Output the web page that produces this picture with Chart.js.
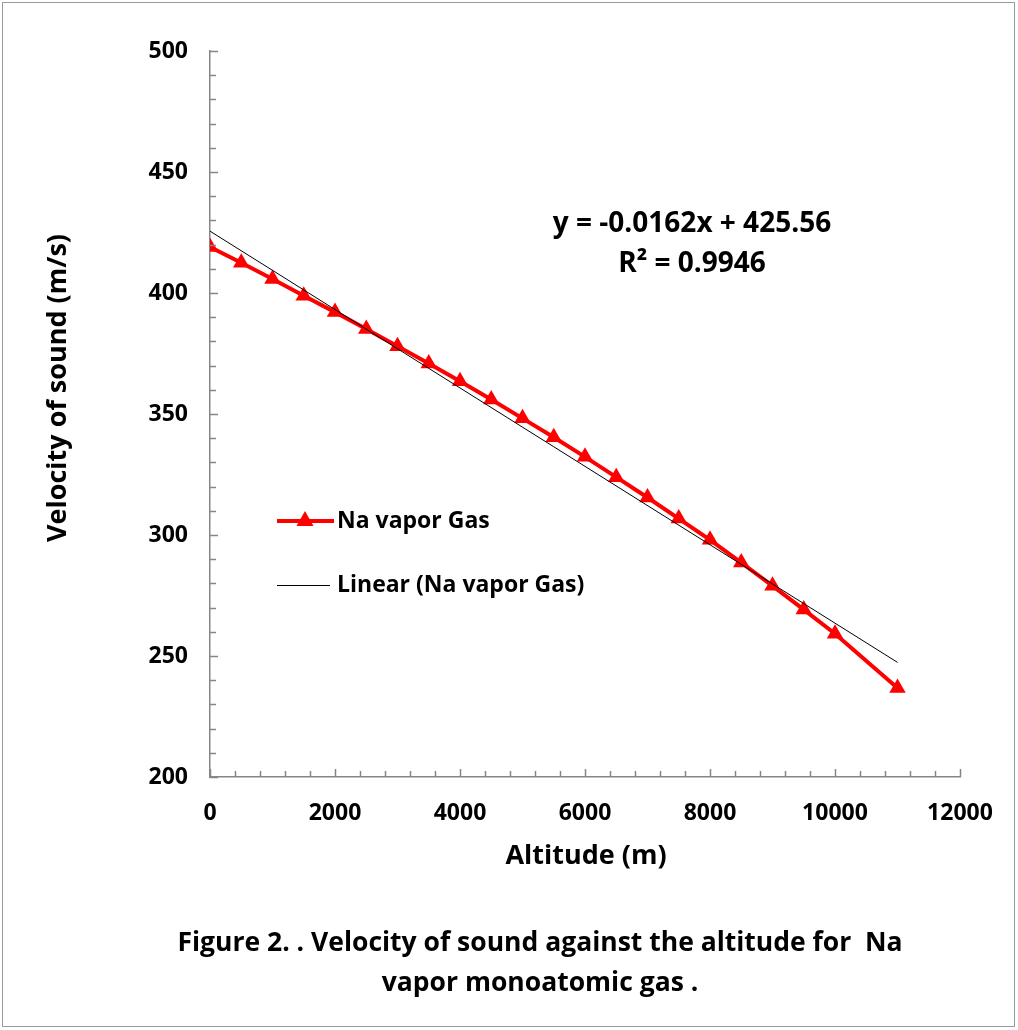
<!DOCTYPE html>
<html>
<head>
<meta charset="utf-8">
<title>Velocity of sound vs altitude - Na vapor</title>
<script src="https://cdn.jsdelivr.net/npm/chart.js@4"></script>
<style>
  html, body { margin: 0; padding: 0; background: #fff; }
  canvas { display: block; }
</style>
</head>
<body>
<canvas id="chart" width="1018" height="1030"></canvas>
<script>
// data
const altitudes = [0, 500, 1000, 1500, 2000, 2500, 3000, 3500, 4000, 4500, 5000,
                   5500, 6000, 6500, 7000, 7500, 8000, 8500, 9000, 9500, 10000, 11000];
const velocities = [419.0, 412.5, 405.8, 398.9, 392.1, 385.1, 378.0, 370.9, 363.5, 356.0, 348.2,
                    340.4, 332.3, 323.9, 315.5, 306.8, 298.0, 288.6, 279.0, 269.2, 259.2, 236.8];
const trendX = [0, 11000];
const trendY = [425.56, 247.36];
const yTicks = [200, 250, 300, 350, 400, 450, 500];
const xTicks = [0, 2000, 4000, 6000, 8000, 10000, 12000];

const seriesName = 'Na vapor Gas';
const trendName = 'Linear (Na vapor Gas)';
const eqLines = ['y = -0.0162x + 425.56', 'R² = 0.9946'];
const captionLines = ['Figure 2. . Velocity of sound against the altitude for  Na', 'vapor monoatomic gas .'];

const FONT = '"Open Sans", Lato, sans-serif';
const axisGray = '#868686';

// extra drawing: inward ticks, titles, legend, equation, caption, frame
const decor = {
  id: 'decor',
  afterDraw(chart) {
    const { ctx, chartArea: a, scales: { x, y } } = chart;
    ctx.save();

    // inward tick marks, major + minor
    ctx.strokeStyle = axisGray;
    ctx.lineWidth = 1.5;
    ctx.beginPath();
    for (let v = 200; v <= 500; v += 10) {
      const py = Math.round(y.getPixelForValue(v)) + 0.5;
      const len = (v % 50 === 0) ? 8 : 6;
      ctx.moveTo(a.left, py); ctx.lineTo(a.left + len, py);
    }
    for (let v = 0; v <= 12000; v += 400) {
      const px = Math.round(x.getPixelForValue(v)) + 0.5;
      const len = (v % 2000 === 0) ? 8 : 6;
      ctx.moveTo(px, a.bottom); ctx.lineTo(px, a.bottom - len);
    }
    ctx.stroke();

    ctx.fillStyle = '#000';
    ctx.textAlign = 'center';
    ctx.textBaseline = 'middle';

    // axis titles
    ctx.font = 'bold 27px ' + FONT;
    ctx.fillText('Altitude (m)', 586, 856);
    ctx.save();
    ctx.translate(58, 388);
    ctx.rotate(-Math.PI / 2);
    ctx.fillText('Velocity of sound (m/s)', 0, 0);
    ctx.restore();

    // trendline equation
    ctx.font = 'bold 28px ' + FONT;
    ctx.fillText(eqLines[0], 692, 224);
    ctx.fillText(eqLines[1], 692, 264);

    // caption
    ctx.font = 'bold 26.5px ' + FONT;
    ctx.fillText(captionLines[0], 540, 943);
    ctx.fillText(captionLines[1], 540, 983);

    // legend
    const ds0 = chart.data.datasets[0];
    ctx.strokeStyle = ds0.borderColor;
    ctx.lineWidth = 4;
    ctx.beginPath(); ctx.moveTo(277, 521); ctx.lineTo(334, 521); ctx.stroke();
    ctx.fillStyle = ds0.borderColor;
    ctx.beginPath();
    ctx.moveTo(305, 511); ctx.lineTo(313.5, 526); ctx.lineTo(296.5, 526); ctx.closePath();
    ctx.fill();
    ctx.strokeStyle = '#000';
    ctx.lineWidth = 1;
    ctx.beginPath(); ctx.moveTo(277, 585.5); ctx.lineTo(330, 585.5); ctx.stroke();

    ctx.fillStyle = '#000';
    ctx.textAlign = 'left';
    ctx.font = 'bold 23px ' + FONT;
    ctx.fillText(ds0.label, 337, 521);
    ctx.fillText(chart.data.datasets[1].label, 337, 585);

    // outer frame
    ctx.strokeStyle = '#9a9a9a';
    ctx.lineWidth = 1;
    ctx.strokeRect(2.5, 2.5, 1012, 1024);

    ctx.restore();
  }
};

new Chart(document.getElementById('chart'), {
  type: 'line',
  data: {
    datasets: [
      {
        label: seriesName,
        data: altitudes.map((a, i) => ({ x: a, y: velocities[i] })),
        borderColor: '#ff0000',
        backgroundColor: '#ff0000',
        borderWidth: 4,
        pointStyle: 'triangle',
        pointRadius: 9.5,
        pointBorderWidth: 0,
        tension: 0,
        order: 1
      },
      {
        label: trendName,
        data: trendX.map((a, i) => ({ x: a, y: trendY[i] })),
        borderColor: '#000000',
        borderWidth: 1,
        pointRadius: 0,
        tension: 0,
        order: 0
      }
    ]
  },
  options: {
    responsive: false,
    animation: false,
    layout: { padding: { top: 51, right: 58, left: 0, bottom: 0 } },
    plugins: {
      legend: { display: false },
      tooltip: { enabled: false }
    },
    scales: {
      x: {
        type: 'linear',
        min: 0,
        max: 12000,
        afterFit: (s) => { s.height = 253; },
        afterBuildTicks: (s) => { s.ticks = xTicks.map(v => ({ value: v })); },
        grid: { display: false, drawTicks: false },
        border: { display: true, color: axisGray, width: 1.5 },
        ticks: {
          padding: 23, color: '#000',
          font: { family: FONT, size: 23, weight: 'bold' },
          callback: (v) => String(v)
        }
      },
      y: {
        type: 'linear',
        min: 200,
        max: 500,
        afterFit: (s) => { s.width = 210; },
        afterBuildTicks: (s) => { s.ticks = yTicks.map(v => ({ value: v })); },
        grid: { display: false, drawTicks: false },
        border: { display: true, color: axisGray, width: 1.5 },
        ticks: {
          padding: 22, color: '#000',
          font: { family: FONT, size: 23, weight: 'bold' },
          callback: (v) => String(v)
        }
      }
    }
  },
  plugins: [decor]
});
</script>
</body>
</html>
